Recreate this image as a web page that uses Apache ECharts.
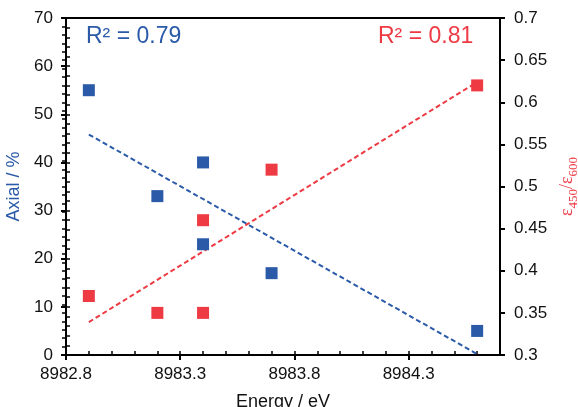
<!DOCTYPE html>
<html>
<head>
<meta charset="utf-8">
<script src="https://cdn.jsdelivr.net/npm/echarts@6/dist/echarts.min.js"></script>
<style>
  html, body { margin: 0; padding: 0; background: #fff; }
  #main { width: 578px; height: 407px; }
</style>
</head>
<body>
<div id="main"></div>
<script>
// data
var energy = [8982.9, 8983.2, 8983.4, 8983.4, 8983.7, 8984.6];
var axialPct = [55, 33, 40, 23, 17, 5];
var epsRatio = [0.37, 0.35, 0.35, 0.46, 0.52, 0.62];
var fitEnergy = [8982.9, 8984.6];
var axialFit = [45.8, 0.2];
var ratioFit = [0.339, 0.624];
var xStart = 8982.8, xEnd = 8984.7;   // x axis is drawn as offset from xStart
var axialRange = [0, 70];
var ratioRange = [0.3, 0.7];

var BLUE = '#2a5aa8', RED = '#ee3a43', INK = '#111';
var FONT = 'Liberation Sans';

var chart = echarts.init(document.getElementById('main'));

function pairs(xs, ys) {
  return xs.map(function (x, i) { return [+(x - xStart).toFixed(3), ys[i]]; });
}

function mainAxis(extra) {
  return Object.assign({
    type: 'value',
    splitLine: { show: false },
    axisLine: { show: true, onZero: false, lineStyle: { color: '#000', width: 2 } },
    axisTick: { show: true, inside: false, length: 5, lineStyle: { color: '#000', width: 2 } },
    axisLabel: { color: INK, fontSize: 17, fontFamily: FONT }
  }, extra);
}
// second axis on the same side, only for the short inner ticks
function innerAxis(extra) {
  return Object.assign({
    type: 'value',
    splitLine: { show: false },
    axisLine: { show: true, lineStyle: { color: '#000', width: 2 } },
    axisLabel: { show: false },
    axisTick: { show: true, inside: true, length: 4, lineStyle: { color: '#000', width: 1.5 } }
  }, extra);
}

var option = {
  animation: false,
  backgroundColor: '#fff',
  grid: {
    left: 66, right: 78, top: 18, bottom: 52,
    show: true, borderColor: '#000', borderWidth: 2, backgroundColor: 'transparent',
    outerBoundsMode: 'none'
  },
  xAxis: [
    mainAxis({
      position: 'bottom', min: 0, max: +(xEnd - xStart).toFixed(3), interval: 0.5,
      name: 'Energy / eV', nameLocation: 'middle', nameGap: 38,
      nameTextStyle: { color: INK, fontSize: 18, fontFamily: FONT },
      axisLabel: {
        color: INK, fontSize: 17, fontFamily: FONT, margin: 11, showMaxLabel: false,
        formatter: function (v) { return (xStart + v).toFixed(1); }
      }
    }),
    innerAxis({ position: 'bottom', min: 0, max: +(xEnd - xStart).toFixed(3), interval: 0.1 })
  ],
  yAxis: [
    mainAxis({
      position: 'left', min: axialRange[0], max: axialRange[1], interval: 10,
      name: 'Axial / %', nameLocation: 'middle', nameGap: 32,
      nameTextStyle: { color: BLUE, fontSize: 18, fontFamily: FONT },
      axisLabel: { color: INK, fontSize: 17, fontFamily: FONT, margin: 13 }
    }),
    mainAxis({
      position: 'right', min: ratioRange[0], max: ratioRange[1], interval: 0.05,
      name: '{e|ε}{s|450}{e|/ε}{s|600}', nameLocation: 'middle', nameGap: 50, nameRotate: 90,
      nameTextStyle: {
        color: RED,
        rich: {
          e: { fontSize: 18, fontFamily: 'Liberation Serif', color: RED, verticalAlign: 'top', lineHeight: 18 },
          s: { fontSize: 13, fontFamily: 'Liberation Serif', color: RED, verticalAlign: 'bottom', lineHeight: 22 }
        }
      },
      axisLabel: {
        color: INK, fontSize: 17, fontFamily: FONT, margin: 14,
        formatter: function (v) { return String(+v.toFixed(2)); }
      }
    }),
    innerAxis({ position: 'left', min: axialRange[0], max: axialRange[1], interval: 2 }),
    innerAxis({ position: 'right', min: ratioRange[0], max: ratioRange[1], interval: 0.01 })
  ],
  graphic: [
    { type: 'text', left: 86, top: 25, style: { text: 'R² = 0.79', fill: BLUE, fontSize: 23, fontFamily: FONT } },
    { type: 'text', left: 378, top: 25, style: { text: 'R² = 0.81', fill: RED, fontSize: 23, fontFamily: FONT } }
  ],
  series: [
    {
      type: 'line', xAxisIndex: 0, yAxisIndex: 0, data: pairs(fitEnergy, axialFit),
      showSymbol: false, silent: true, z: 1,
      lineStyle: { color: BLUE, width: 2, type: [5, 3] }
    },
    {
      type: 'line', xAxisIndex: 0, yAxisIndex: 1, data: pairs(fitEnergy, ratioFit),
      showSymbol: false, silent: true, z: 1,
      lineStyle: { color: RED, width: 2, type: [5, 3] }
    },
    {
      type: 'scatter', xAxisIndex: 0, yAxisIndex: 0, data: pairs(energy, axialPct),
      symbol: 'rect', symbolSize: 12, z: 3,
      itemStyle: { color: BLUE, opacity: 1 }
    },
    {
      type: 'scatter', xAxisIndex: 0, yAxisIndex: 1, data: pairs(energy, epsRatio),
      symbol: 'rect', symbolSize: 12, z: 3,
      itemStyle: { color: RED, opacity: 1 }
    }
  ]
};

chart.setOption(option);
</script>
</body>
</html>
